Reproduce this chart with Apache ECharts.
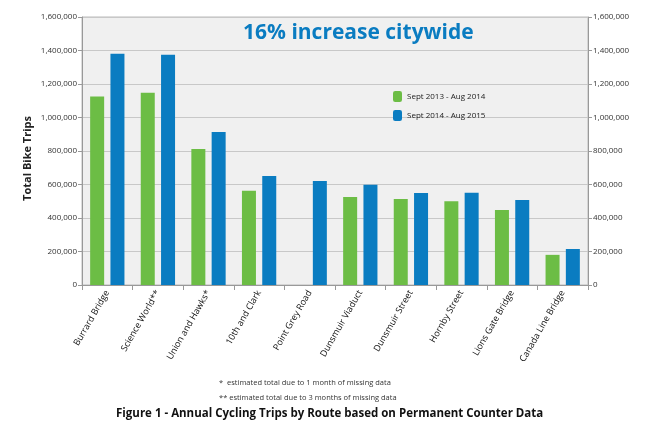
<!DOCTYPE html>
<html><head><meta charset="utf-8">
<script src="https://cdn.jsdelivr.net/npm/echarts@6/dist/echarts.min.js"></script>
<style>html,body{margin:0;background:#fff}#c{width:662px;height:441px}</style>
</head><body><div id="c"></div>
<script>
var routes = ['Burrard Bridge', 'Science World**', 'Union and Hawks*', '10th and Clark', 'Point Grey Road',
  'Dunsmuir Viaduct', 'Dunsmuir Street', 'Hornby Street', 'Lions Gate Bridge', 'Canada Line Bridge'];
var period1 = [1125000, 1148000, 812000, 562000, null, 525000, 513000, 500000, 448000, 180000];
var period2 = [1380000, 1375000, 913000, 651000, 621000, 598000, 549000, 551000, 507000, 215000];

var chart = echarts.init(document.getElementById('c'));
var font = 'Open Sans';
function yAxis(pos) {
  return {
    type: 'value', min: 0, max: 1600000, interval: 200000, position: pos,
    axisLine: { show: true, lineStyle: { color: '#999' } },
    axisTick: { show: true, length: 4, lineStyle: { color: '#999' } },
    splitLine: { show: pos === 'left', lineStyle: { color: '#c8c8c8' } },
    axisLabel: { fontSize: 8, color: '#333', fontFamily: font, margin: 5,
      formatter: function (v) { return v.toLocaleString('en-US'); } }
  };
}
chart.setOption({
  textStyle: { fontFamily: font },
  grid: { left: 82, right: 74, top: 17, bottom: 156, show: true, backgroundColor: '#f0f0f0', borderColor: '#bbb' },
  title: { text: '16% increase citywide', left: 238, top: 18,
    textStyle: { color: '#0a7cc1', fontSize: 21, fontWeight: 'bold', fontFamily: font } },
  legend: { orient: 'vertical', left: 388, top: 86, itemWidth: 9, itemHeight: 11, itemGap: 8,
    textStyle: { fontSize: 8, color: '#222', fontFamily: font } },
  xAxis: {
    type: 'category', data: routes,
    axisLine: { lineStyle: { color: '#999' } },
    axisTick: { show: true, lineStyle: { color: '#999' } },
    axisLabel: { rotate: 60, fontSize: 9, color: '#111', fontFamily: font, interval: 0, margin: 6 }
  },
  yAxis: [yAxis('left'), yAxis('right')],
  series: [
    { name: 'Sept 2013 - Aug 2014', type: 'bar', data: period1, barWidth: 14, barGap: '45%',
      itemStyle: { color: '#6cbd45' } },
    { name: 'Sept 2014 - Aug 2015', type: 'bar', data: period2, barWidth: 14,
      itemStyle: { color: '#0a7cc1' } }
  ],
  graphic: [
    { type: 'text', left: 22, top: 116, rotation: Math.PI / 2,
      style: { text: 'Total Bike Trips', fontSize: 11, fontWeight: 'bold', fill: '#222', fontFamily: font } },
    { type: 'text', left: 219, top: 379,
      style: { text: '*  estimated total due to 1 month of missing data', fontSize: 7.5, fill: '#333', fontFamily: font } },
    { type: 'text', left: 219, top: 394,
      style: { text: '** estimated total due to 3 months of missing data', fontSize: 7.5, fill: '#333', fontFamily: font } },
    { type: 'text', left: 116, top: 408,
      style: { text: 'Figure 1 - Annual Cycling Trips by Route based on Permanent Counter Data', fontSize: 11.5, fontWeight: 'bold', fill: '#111', fontFamily: font } }
  ]
});
</script></body></html>
